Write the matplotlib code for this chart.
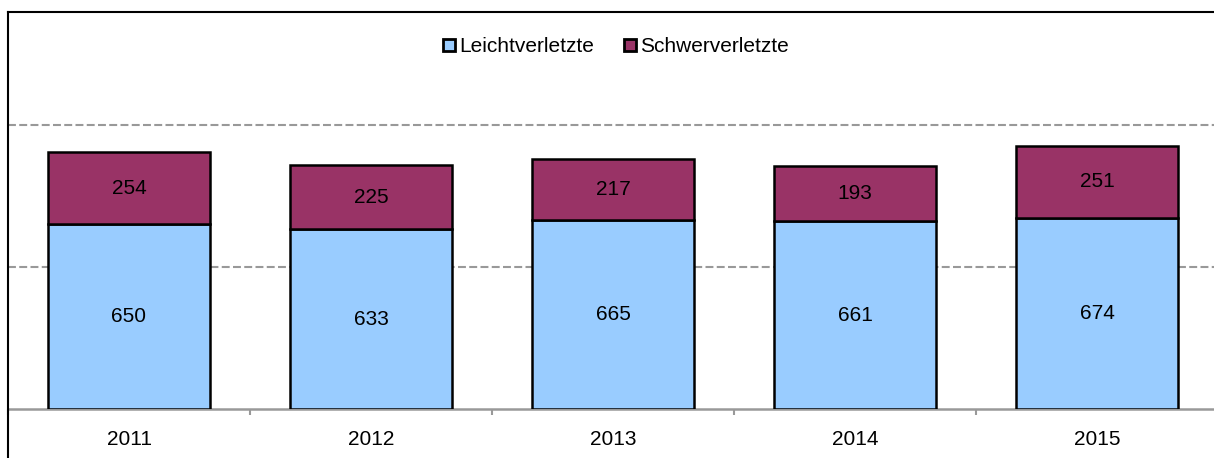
import matplotlib
matplotlib.use("Agg")
import matplotlib.pyplot as plt
from matplotlib.lines import Line2D
from matplotlib.patches import Patch
import numpy as np

plt.rcParams['font.family'] = ['Liberation Sans', 'DejaVu Sans']

years = ['2011', '2012', '2013', '2014', '2015']
leicht = [650, 633, 665, 661, 674]
schwer = [254, 225, 217, 193, 251]
series_names = ['Leichtverletzte', 'Schwerverletzte']
colors = ['#99CCFF', '#993366']

W, H = 1214, 458
fig = plt.figure(figsize=(W / 100, H / 100), dpi=100)

# axes: x from 8px to 1218px, y from 12px (top) to 409px (baseline)
left_px, right_px, top_px, base_px = 8, 1218, 12, 409
ax = fig.add_axes([left_px / W, (H - base_px) / H, (right_px - left_px) / W, (base_px - top_px) / H])
ax.set_xlim(-0.5, len(years) - 0.5)
ax.set_ylim(0, (base_px - top_px) / 0.284)

fs = 15
x = np.arange(len(years))
bw = 0.67
ax.bar(x, leicht, bw, color=colors[0], edgecolor='black', linewidth=1.8, zorder=3)
ax.bar(x, schwer, bw, bottom=leicht, color=colors[1], edgecolor='black', linewidth=1.8, zorder=3)

for xi, l, s in zip(x, leicht, schwer):
    ax.text(xi, l / 2, str(l), ha='center', va='center', fontsize=fs, zorder=4)
    ax.text(xi, l + s / 2, str(s), ha='center', va='center', fontsize=fs, zorder=4)

for gy in [500, 1000]:
    ax.axhline(gy, color='#999999', lw=1.5, ls=(0, (3.8, 1.6)), zorder=1)

for sp in ['top', 'right', 'left']:
    ax.spines[sp].set_visible(False)
ax.spines['bottom'].set_color('#999999')
ax.spines['bottom'].set_linewidth(1.8)
ax.set_yticks([])

ax.set_xticks(x)
ax.set_xticklabels(years, fontsize=fs)
ax.set_xticks(np.arange(-0.5, len(years) + 0.5, 1), minor=True)
ax.tick_params(axis='x', which='major', length=0, pad=15)
ax.tick_params(axis='x', which='minor', length=4, width=1.5, color='#999999')

handles = [Patch(facecolor=c, edgecolor='black', linewidth=2) for c in colors]
leg = ax.legend(handles, series_names, loc='center', bbox_to_anchor=(616 / W, (H - 47) / H),
                bbox_transform=fig.transFigure, ncol=2, frameon=False, fontsize=fs,
                handlelength=0.55, handleheight=0.55, handletextpad=0.2, columnspacing=1.45)

# outer frame lines (top and left)
fig.add_artist(Line2D([left_px / W, 1], [(H - top_px) / H] * 2, color='black', lw=1.5, transform=fig.transFigure))
fig.add_artist(Line2D([left_px / W] * 2, [0, (H - top_px) / H], color='black', lw=1.5, transform=fig.transFigure))

fig.savefig('out.png', dpi=100)
